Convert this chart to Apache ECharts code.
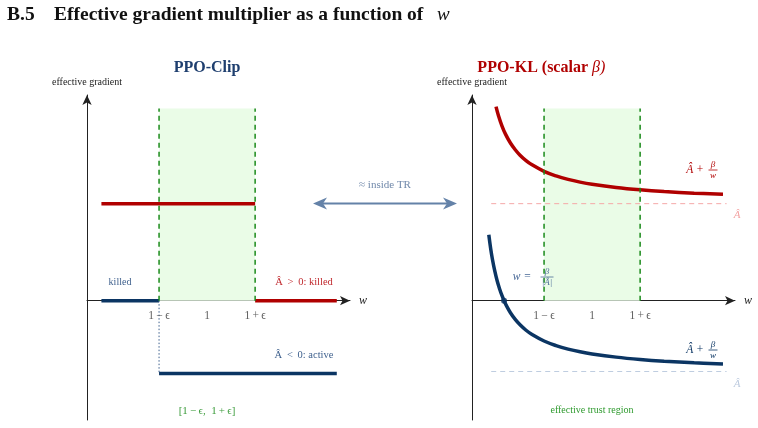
<!DOCTYPE html>
<html><head><meta charset="utf-8">
<script src="https://cdn.jsdelivr.net/npm/echarts@6/dist/echarts.min.js"></script>
<style>html,body{margin:0;padding:0;background:#fff}#c{width:758px;height:428px}</style>
</head><body><div id="c"></div><script>
// ---------- data ----------
const tickValues = [0.6, 1, 1.4];
const tickLabels = ['1\u2009\u2212\u2009\u03f5', '1', '1\u2009+\u2009\u03f5'];
const trustRegion = [0.6, 1.4];
const bandTop = 1.98;
// PPO-Clip segments [w, effective gradient]
const clipPosActive = [[0.12, 1.0], [1.4, 1.0]];
const clipPosKilled = [[1.4, 0], [2.08, 0]];
const clipNegKilled = [[0.12, 0], [0.6, 0]];
const clipNegActive = [[0.6, -0.75], [2.08, -0.75]];
const clipNegDrop = [[0.6, 0], [0.6, -0.75]];
// PPO-KL curves
const advPos = 1.0;
const advNeg = -0.73;
const advLineW = [0.16, 2.12];
const klPosW = [0.20, 0.22, 0.25, 0.28, 0.32, 0.36, 0.40, 0.45, 0.50, 0.60, 0.70, 0.80, 0.90, 1.00, 1.20, 1.40, 1.60, 1.85, 2.09];
const klPosY = [2.000, 1.909, 1.800, 1.714, 1.625, 1.556, 1.500, 1.444, 1.400, 1.333, 1.286, 1.250, 1.222, 1.200, 1.167, 1.143, 1.125, 1.108, 1.096];
const klNegW = [0.14, 0.155, 0.17, 0.19, 0.21, 0.23, 0.25, 0.267, 0.29, 0.32, 0.36, 0.40, 0.45, 0.50, 0.60, 0.70, 0.80, 0.90, 1.00, 1.20, 1.40, 1.60, 1.85, 2.09];
const klNegY = [0.680, 0.541, 0.427, 0.304, 0.203, 0.121, 0.051, 0.000, -0.059, -0.124, -0.193, -0.249, -0.305, -0.349, -0.416, -0.463, -0.499, -0.527, -0.549, -0.582, -0.606, -0.624, -0.641, -0.653];
const crossing = [0.267, 0];

// ---------- styles ----------
const SERIF = '"Liberation Serif","Times New Roman","DejaVu Serif",serif';
const RED = '#b00000', NAVY = '#0b3563', GREEN = '#1a8a1a';
const zip = (a, b) => a.map((v, i) => [v, b[i]]);

function xAx(g) {
  return {
    gridIndex: g, type: 'value', min: 0, max: 2.19,
    splitLine: { show: false }, axisTick: { show: false }, axisLabel: { show: false },
    axisLine: { onZero: true, symbol: ['none', 'arrow'], symbolSize: [7, 10], lineStyle: { color: '#222', width: 1 } },
    name: 'w', nameLocation: 'end', nameGap: 9,
    nameTextStyle: { fontFamily: SERIF, fontStyle: 'italic', fontSize: 12, color: '#222' }
  };
}
function yAx(g) {
  return {
    gridIndex: g, type: 'value', min: -1.23, max: 2.12,
    splitLine: { show: false }, axisTick: { show: false }, axisLabel: { show: false },
    axisLine: { show: true, onZero: false, symbol: ['none', 'arrow'], symbolSize: [7, 10], lineStyle: { color: '#222', width: 1 } },
    name: 'effective gradient', nameLocation: 'end', nameGap: 8,
    nameTextStyle: { fontFamily: SERIF, fontSize: 10, color: '#222', align: 'center' }
  };
}
function seg(g, data, color, width, type, z) {
  return { type: 'line', xAxisIndex: g, yAxisIndex: g, data, symbol: 'none', silent: true,
    lineStyle: { color, width, type: type || 'solid' }, z: z || 3, animation: false };
}
function curve(g, data, color) {
  return Object.assign(seg(g, data, color, 3.5), { smooth: 0.4 });
}
function bandSeries(g) {
  const s = seg(g, [[trustRegion[0], 0], [trustRegion[0], bandTop]], GREEN, 1.5, [5, 4], 4);
  s.markArea = { silent: true, itemStyle: { color: '#eafce7' },
    data: [[{ coord: [trustRegion[0], 0] }, { coord: [trustRegion[1], bandTop] }]] };
  return s;
}
function tickSeries(g) {
  return { type: 'scatter', xAxisIndex: g, yAxisIndex: g, silent: true, symbolSize: 0, z: 6,
    data: tickValues.map(v => [v, 0]),
    label: { show: true, position: 'bottom', distance: 9, formatter: p => tickLabels[p.dataIndex],
      fontFamily: SERIF, fontSize: 11.5, color: '#333' } };
}

// ---------- text helpers ----------
function txt(x, y, text, fill, size, opts) {
  opts = opts || {};
  return { type: 'text', x, y, z: 20, silent: true, style: { text, fill,
    font: (opts.style || '') + ' ' + (opts.weight || '') + ' ' + size + 'px ' + SERIF,
    textAlign: opts.align || 'center', textVerticalAlign: 'middle' } };
}
function frac(cx, yl, num, den, color, size, w) {
  return [
    txt(cx, yl - 5, num, color, size, { style: 'italic' }),
    { type: 'line', z: 20, silent: true, shape: { x1: cx - w / 2, y1: yl, x2: cx + w / 2, y2: yl }, style: { stroke: color, lineWidth: 0.8 } },
    txt(cx, yl + 6, den, color, size, { style: 'italic' })
  ];
}

const graphic = [
  txt(7, 15, 'B.5', '#111', 19.5, { weight: 'bold', align: 'left' }),
  txt(54, 15, 'Effective gradient multiplier as a function of', '#111', 19.5, { weight: 'bold', align: 'left' }),
  txt(437, 15, 'w', '#111', 19, { style: 'italic', align: 'left' }),
  txt(207, 68, 'PPO-Clip', '#1f3f6f', 16, { weight: 'bold' }),
  txt(592, 68, 'PPO-KL (scalar ', RED, 16, { weight: 'bold', align: 'right' }),
  txt(592, 68, '\u03b2)', RED, 16, { style: 'italic', align: 'left' }),
  txt(120, 282, 'killed', '#3d5f8c', 10),
  txt(304, 282, '\u00c2 \u2009>\u2009 0: killed', '#c0282d', 10.5),
  txt(304, 355, '\u00c2 \u2009<\u2009 0: active', '#3d5f8c', 10.5),
  txt(207, 411, '[1\u2009\u2212\u2009\u03f5,  1\u2009+\u2009\u03f5]', '#3c9c3c', 11),
  txt(385, 185, '\u2248 inside TR', '#7088aa', 11),
  { type: 'line', z: 20, silent: true, shape: { x1: 320, y1: 203.5, x2: 450, y2: 203.5 }, style: { stroke: '#6482a8', lineWidth: 2.2 } },
  { type: 'polygon', z: 21, silent: true, shape: { points: [[313, 203.5], [327, 197.5], [323, 203.5], [327, 209.5]] }, style: { fill: '#6482a8' } },
  { type: 'polygon', z: 21, silent: true, shape: { points: [[457, 203.5], [443, 197.5], [447, 203.5], [443, 209.5]] }, style: { fill: '#6482a8' } },
  txt(695, 170, '\u00c2 +', RED, 11.5, { style: 'italic' }),
  ...frac(713, 170, '\u03b2', 'w', RED, 9, 9),
  txt(737, 215, '\u00c2', '#f3a3a3', 11, { style: 'italic' }),
  txt(695, 350, '\u00c2 +', NAVY, 11.5, { style: 'italic' }),
  ...frac(713, 350, '\u03b2', 'w', NAVY, 9, 9),
  txt(737, 384, '\u00c2', '#bccade', 11, { style: 'italic' }),
  txt(522, 277, 'w =', '#4a6a98', 11.5, { style: 'italic' }),
  ...frac(547, 277, '\u03b2', '|\u00c2|', '#4a6a98', 9, 13),
  txt(592, 410, 'effective trust region', '#2e9a2e', 10)
];

const chart = echarts.init(document.getElementById('c'), null, { renderer: 'canvas' });
chart.setOption({
  animation: false,
  backgroundColor: '#fff',
  grid: [
    { left: 87, top: 95, width: 263, height: 325, containLabel: false, outerBoundsMode: 'none' },
    { left: 472, top: 95, width: 263, height: 325, containLabel: false, outerBoundsMode: 'none' }
  ],
  xAxis: [xAx(0), xAx(1)],
  yAxis: [yAx(0), yAx(1)],
  series: [
    bandSeries(0),
    seg(0, [[trustRegion[1], 0], [trustRegion[1], bandTop]], GREEN, 1.5, [5, 4], 4),
    seg(0, clipPosActive, RED, 3.5),
    seg(0, clipPosKilled, RED, 3.5),
    seg(0, clipNegKilled, NAVY, 3.5),
    seg(0, clipNegActive, NAVY, 3.5),
    seg(0, clipNegDrop, '#3d5f8c', 1, [1.5, 2], 5),
    tickSeries(0),
    bandSeries(1),
    seg(1, [[trustRegion[1], 0], [trustRegion[1], bandTop]], GREEN, 1.5, [5, 4], 4),
    seg(1, [[advLineW[0], advPos], [advLineW[1], advPos]], '#f5a8a8', 1, [5, 4], 2),
    seg(1, [[advLineW[0], advNeg], [advLineW[1], advNeg]], '#bfcde0', 1, [5, 4], 2),
    curve(1, zip(klPosW, klPosY), RED),
    curve(1, zip(klNegW, klNegY), NAVY),
    { type: 'scatter', xAxisIndex: 1, yAxisIndex: 1, data: [crossing], symbolSize: 6, itemStyle: { color: NAVY }, z: 6, silent: true },
    tickSeries(1)
  ],
  graphic
});
</script></body></html>
